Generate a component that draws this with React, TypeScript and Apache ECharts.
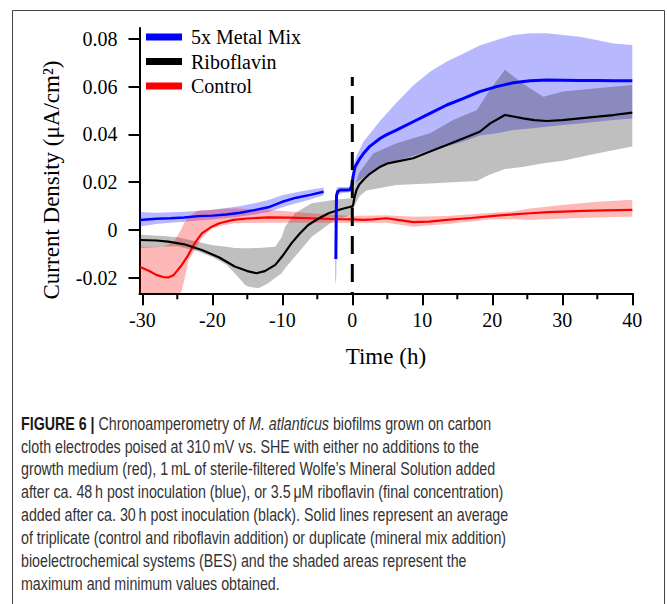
import React, { useEffect, useRef } from "react";
import * as echarts from "echarts";

// ---------- data (Time in h, current density in µA/cm²) ----------
const xTicks = [-30, -20, -10, 0, 10, 20, 30, 40];
const xMinorTicks = [-25, -15, -5, 5, 15, 25, 35];
const yTicks = [-0.02, 0, 0.02, 0.04, 0.06, 0.08];

const legendNames = ["5x Metal Mix", "Riboflavin", "Control"];

// 5x Metal Mix (blue) – before the gap
const blueLeftT = [-30.3, -28, -26, -24, -22, -20, -18, -16, -14, -12, -10, -8, -6, -4.1];
const blueLeftV = [0.0042, 0.0047, 0.0049, 0.0052, 0.0058, 0.006, 0.0065, 0.0072, 0.0083, 0.0095, 0.0118, 0.0135, 0.0147, 0.016];
const blueLeftHi = [0.0075, 0.0072, 0.0074, 0.0076, 0.008, 0.0085, 0.0092, 0.01, 0.0112, 0.0125, 0.0145, 0.0158, 0.0168, 0.0178];
const blueLeftLo = [0.0015, 0.0025, 0.003, 0.0034, 0.004, 0.0044, 0.005, 0.0056, 0.0065, 0.0075, 0.0095, 0.0112, 0.0128, 0.0145];

// 5x Metal Mix (blue) – after the gap
const blueRightT = [-2.35, -2.3, -2.25, -2.1, -1.8, -1.0, -0.3, -0.05, 0.1, 0.4, 1, 1.6, 2.5, 4, 5, 6.3, 8.7, 11.1, 13.5, 15.9, 18.2, 20.6, 23, 25.4, 27.8, 30, 32.5, 35, 37.3, 40];
const blueRightV = [-0.0121, 0.005, 0.0145, 0.016, 0.0167, 0.0167, 0.0168, 0.019, 0.0223, 0.0265, 0.0295, 0.032, 0.035, 0.0384, 0.04, 0.0418, 0.0453, 0.0488, 0.0523, 0.0551, 0.0579, 0.06, 0.0616, 0.0624, 0.0628, 0.0627, 0.0625, 0.0625, 0.0624, 0.0624];
const blueBandT = [-2.45, -2.3, -2.1, -1.5, -0.3, 0, 0.15, 0.6, 1.6, 3, 4, 6.3, 8.7, 11.1, 13.5, 15.9, 18.2, 20.6, 23, 25.4, 27.8, 30.1, 32.5, 34.9, 37.3, 40];
const blueBandHi = [-0.012, 0.017, 0.018, 0.018, 0.018, 0.021, 0.027, 0.031, 0.037, 0.042, 0.0458, 0.0532, 0.0605, 0.0662, 0.0705, 0.0738, 0.0772, 0.0795, 0.0816, 0.0823, 0.0823, 0.0816, 0.0809, 0.0795, 0.078, 0.0774];
const blueBandLo = [-0.023, -0.02, 0.0145, 0.0155, 0.0158, 0.0165, 0.018, 0.02, 0.022, 0.025, 0.026, 0.029, 0.031, 0.0335, 0.035, 0.037, 0.0395, 0.0405, 0.0418, 0.0425, 0.0432, 0.0439, 0.0446, 0.0453, 0.046, 0.0467];

// Riboflavin (black)
const riboT = [-30.3, -28, -26.3, -24, -21.5, -19, -16.8, -15, -13.7, -12.5, -11, -10, -8.7, -7.5, -6.3, -5, -3.4, -1.5, -0.1, 0, 0.15, 0.3, 0.6, 1, 1.6, 2.5, 4, 5, 6.3, 8.7, 11.1, 13.5, 15.9, 18.2, 19.7, 21.8, 23, 24.4, 26, 27.8, 30, 32.5, 35, 37.3, 40];
const riboV = [-0.0042, -0.0044, -0.0049, -0.006, -0.0084, -0.0115, -0.0153, -0.0172, -0.0181, -0.0172, -0.0146, -0.011, -0.0056, -0.0015, 0.0021, 0.0045, 0.007, 0.0088, 0.0098, 0.0095, 0.011, 0.0135, 0.0167, 0.019, 0.021, 0.0235, 0.0265, 0.0278, 0.0286, 0.03, 0.0328, 0.0356, 0.0384, 0.0411, 0.0446, 0.0481, 0.0475, 0.0467, 0.046, 0.0456, 0.046, 0.0467, 0.0474, 0.0481, 0.0491];
const riboBandT = [-30.3, -27, -25, -22, -20.1, -18, -16.8, -15.3, -14.9, -13.4, -12, -11, -10.1, -9.6, -8.2, -5.8, -2.5, -0.1, 0.3, 1, 2, 3, 6.3, 11.1, 14.4, 17.8, 19.5, 21.8, 24.5, 27.3, 30.1, 34.9, 40];
const riboBandHi = [-0.002, -0.0025, -0.003, -0.005, -0.0063, -0.007, -0.0075, -0.0077, -0.0077, -0.0075, -0.0072, -0.007, -0.003, 0.0014, 0.007, 0.0112, 0.0126, 0.0133, 0.018, 0.024, 0.028, 0.032, 0.0363, 0.0405, 0.046, 0.0502, 0.058, 0.067, 0.061, 0.0558, 0.0579, 0.0593, 0.0607];
const riboBandLo = [-0.0075, -0.007, -0.0068, -0.009, -0.0112, -0.0145, -0.0181, -0.023, -0.0237, -0.0244, -0.0223, -0.02, -0.0181, -0.016, -0.0112, -0.0028, 0.0042, 0.0063, 0.01, 0.014, 0.0165, 0.017, 0.0188, 0.0195, 0.02, 0.0205, 0.023, 0.0255, 0.0265, 0.0279, 0.029, 0.032, 0.0349];

// Control (red)
const ctrlT = [-30.3, -29, -28, -27, -26.2, -25.5, -24.5, -23.5, -22.5, -21.5, -20, -19, -17, -15, -12, -9, -6, -3, 0, 1.6, 3, 4.9, 6.5, 8.7, 11, 13.5, 17, 20.6, 23, 25.4, 28, 30.1, 33, 36, 40];
const ctrlV = [-0.0155, -0.0172, -0.0188, -0.0197, -0.0198, -0.0188, -0.0152, -0.0108, -0.0055, -0.0014, 0.0015, 0.0028, 0.0042, 0.0048, 0.0053, 0.0052, 0.0049, 0.0046, 0.0044, 0.0042, 0.0044, 0.0049, 0.0042, 0.0033, 0.0035, 0.0042, 0.005, 0.006, 0.0065, 0.007, 0.0075, 0.0077, 0.008, 0.0082, 0.0084];
const ctrlBandT = [-30.3, -27, -25.5, -24.5, -24, -23.4, -22, -21.5, -20.1, -18, -16.8, -12, -6, 0, 4.9, 8.7, 13.5, 20, 23, 25.4, 30, 35, 40];
const ctrlBandHi = [-0.007, -0.007, -0.005, 0.0, 0.003, 0.0055, 0.008, 0.0082, 0.0084, 0.009, 0.009, 0.0085, 0.007, 0.0058, 0.0062, 0.0055, 0.0058, 0.0072, 0.0078, 0.009, 0.0105, 0.0118, 0.0126];
const ctrlBandLo = [-0.0265, -0.0265, -0.0265, -0.0265, -0.021, -0.0126, -0.006, -0.0035, 0.0007, 0.0022, 0.0028, 0.003, 0.003, 0.003, 0.003, 0.0014, 0.0025, 0.0045, 0.0045, 0.0042, 0.0048, 0.0052, 0.0056];

// vertical marker at t = 0
const markerT = [0, 0];
const markerV = [0.064, -0.0265];

const captionLines = [
  "{b|FIGURE 6 |} Chronoamperometry of {i|M. atlanticus} biofilms grown on carbon",
  "cloth electrodes poised at 310\u2009mV vs. SHE with either no additions to the",
  "growth medium (red), 1\u2009mL of sterile-filtered Wolfe\u2019s Mineral Solution added",
  "after ca. 48\u2009h post inoculation (blue), or 3.5\u2009\u03bcM riboflavin (final concentration)",
  "added after ca. 30\u2009h post inoculation (black). Solid lines represent an average",
  "of triplicate (control and riboflavin addition) or duplicate (mineral mix addition)",
  "bioelectrochemical systems (BES) and the shaded areas represent the",
  "maximum and minimum values obtained.",
];

const zip = (ts: number[], vs: number[]) => ts.map((t, i) => [t, vs[i]]);

const SERIF = "'Liberation Serif', 'Times New Roman', serif";
const SANS = "'Liberation Sans', Arial, sans-serif";

const X_MIN = -30.4;
const X_MAX = 40;
const Y_MIN = -0.0265;
const Y_MAX = 0.0845;

function band(ts: number[], hi: number[], lo: number[], fill: string, z: number) {
  return {
    type: "custom",
    silent: true,
    z,
    data: ts.map((t, i) => [t, lo[i], hi[i]]),
    encode: { x: 0, y: [1, 2] },
    renderItem: (params: any, api: any) => {
      if (params.dataIndex !== 0) return null;
      const pts: number[][] = [];
      for (let i = 0; i < ts.length; i++) pts.push(api.coord([ts[i], hi[i]]));
      for (let i = ts.length - 1; i >= 0; i--) pts.push(api.coord([ts[i], lo[i]]));
      return { type: "polygon", shape: { points: pts }, style: { fill } };
    },
  };
}

function line(name: string, data: number[][], color: string, width: number) {
  return {
    type: "line",
    name,
    data,
    color,
    symbol: "none",
    showSymbol: false,
    silent: true,
    z: 10,
    lineStyle: { color, width },
  };
}

export default function App() {
  const ref = useRef<HTMLDivElement>(null);
  useEffect(() => {
    if (!ref.current) return;
    const chart = echarts.init(ref.current, null, { renderer: "svg" });
    chart.setOption({
      animation: false,
      backgroundColor: "#ffffff",
      grid: { left: 139.5, right: 34.7, top: 28.05, bottom: 310.7, containLabel: false },
      legend: {
        data: legendNames,
        orient: "vertical",
        left: 146,
        top: 27,
        icon: "rect",
        itemWidth: 36,
        itemHeight: 7,
        itemGap: 4.5,
        padding: 0,
        selectedMode: false,
        textStyle: { fontFamily: SERIF, fontSize: 20, color: "#000", padding: [0, 0, 0, 4], lineHeight: 20 },
      },
      xAxis: {
        type: "value",
        min: X_MIN,
        max: X_MAX,
        name: "Time (h)",
        nameLocation: "middle",
        nameGap: 52,
        nameTextStyle: { fontFamily: SERIF, fontSize: 23, color: "#000" },
        axisLine: { show: true, onZero: false, lineStyle: { color: "#000", width: 2 } },
        axisTick: { show: true, customValues: xTicks, length: 12, lineStyle: { color: "#000", width: 2 } },
        axisLabel: {
          customValues: xTicks,
          formatter: (v: number) => String(v),
          fontFamily: SERIF,
          fontSize: 20,
          color: "#000",
          margin: 17,
        },
        splitLine: { show: false },
      },
      yAxis: {
        type: "value",
        min: Y_MIN,
        max: Y_MAX,
        axisLine: { show: true, onZero: false, lineStyle: { color: "#000", width: 2 } },
        axisTick: { show: true, customValues: yTicks, length: 11, lineStyle: { color: "#000", width: 2 } },
        axisLabel: {
          customValues: yTicks,
          formatter: (v: number) => (Math.abs(v) < 1e-9 ? "0" : v.toFixed(2)),
          fontFamily: SERIF,
          fontSize: 20,
          color: "#000",
          margin: 22,
        },
        splitLine: { show: false },
      },
      series: [
        band(blueLeftT, blueLeftHi, blueLeftLo, "rgba(0,0,255,0.28)", 1),
        band(blueBandT, blueBandHi, blueBandLo, "rgba(0,0,255,0.28)", 1),
        band(riboBandT, riboBandHi, riboBandLo, "rgba(0,0,0,0.25)", 2),
        band(ctrlBandT, ctrlBandHi, ctrlBandLo, "rgba(255,0,0,0.28)", 3),
        line("Control", zip(ctrlT, ctrlV), "#ff0000", 2.2),
        line("Riboflavin", zip(riboT, riboV), "#000000", 2.2),
        line("5x Metal Mix", zip(blueLeftT, blueLeftV), "#0000ff", 2.4),
        line("5x Metal Mix", zip(blueRightT, blueRightV), "#0000ff", 3),
        {
          type: "line",
          name: "t0",
          data: zip(markerT, markerV),
          symbol: "none",
          silent: true,
          z: 11,
          lineStyle: { color: "#000", width: 3, type: [18, 10], dashOffset: 9 },
        },
        {
          // minor ticks of the time axis
          type: "custom",
          name: "minorTicks",
          silent: true,
          z: 20,
          clip: false,
          data: xMinorTicks.map((t) => [t, Y_MIN]),
          encode: { x: 0, y: 1 },
          renderItem: (params: any, api: any) => {
            const p = api.coord([api.value(0), api.value(1)]);
            return {
              type: "line",
              shape: { x1: p[0], y1: p[1], x2: p[0], y2: p[1] + 6 },
              style: { stroke: "#000", lineWidth: 2 },
            };
          },
        },
      ],
      graphic: [
        {
          type: "rect",
          shape: { x: 12.5, y: 10.5, width: 652, height: 620 },
          style: { fill: "none", stroke: "#444", lineWidth: 1 },
          silent: true,
        },
        {
          type: "text",
          x: 51,
          y: 180,
          rotation: Math.PI / 2,
          style: {
            text: "Current Density (\u03bcA/cm\u00b2)",
            fontFamily: SERIF,
            fontSize: 23,
            fill: "#000",
            align: "center",
            verticalAlign: "middle",
          },
        },
        {
          type: "group",
          x: 21,
          y: 0,
          scaleX: 0.77,
          children: captionLines.map((txt, i) => ({
            type: "text",
            x: 0,
            y: 423 + i * 22.86,
            style: {
              text: txt,
              fontFamily: SANS,
              fontSize: 18.5,
              fill: "#333",
              verticalAlign: "middle",
              align: "left",
              rich: {
                b: { fontFamily: SANS, fontSize: 18.5, fontWeight: "bold", fill: "#1a1a1a" },
                i: { fontFamily: SANS, fontSize: 18.5, fontStyle: "italic", fill: "#333" },
              },
            },
          })),
        },
      ],
    });
    return () => chart.dispose();
  }, []);
  return <div ref={ref} style={{ position: "fixed", left: 0, top: 0, width: 667, height: 604 }} />;
}
